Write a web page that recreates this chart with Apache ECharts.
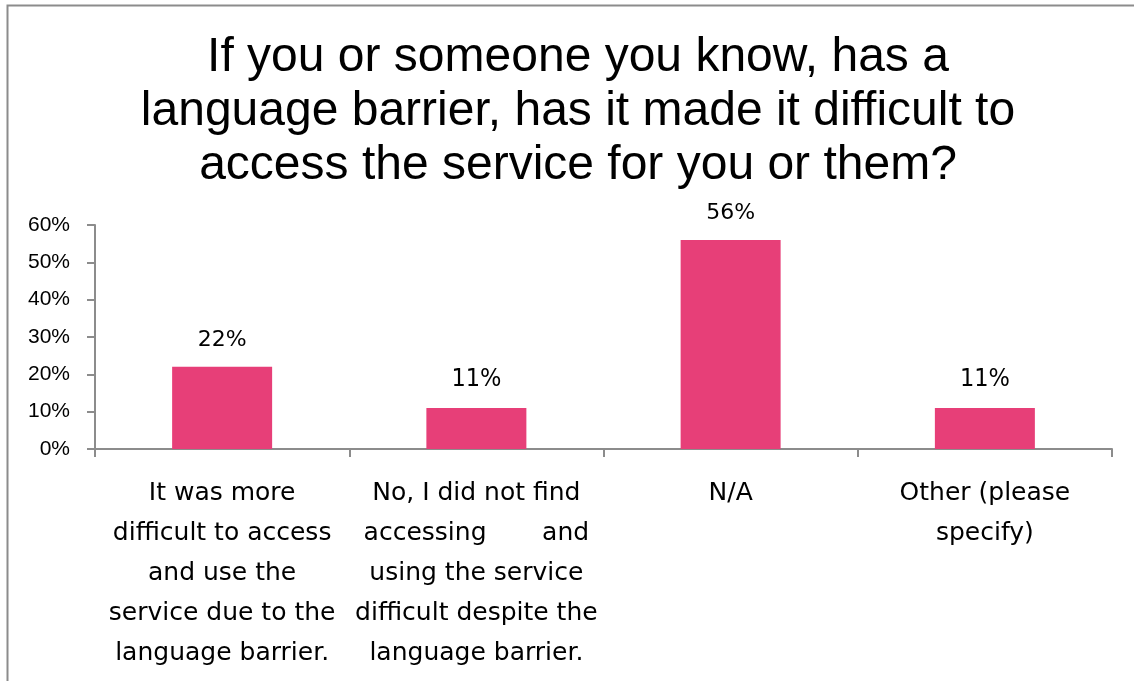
<!DOCTYPE html>
<html>
<head>
<meta charset="utf-8">
<script src="https://cdn.jsdelivr.net/npm/echarts@6/dist/echarts.min.js"></script>
<style>
  html, body { margin: 0; padding: 0; background: #fff; }
  #chart { width: 1134px; height: 681px; }
</style>
</head>
<body>
<div id="chart"></div>
<script>
// Survey answers and their shares (%)
const categories = [
  'It was more\ndifficult to access\nand use the\nservice due to the\nlanguage barrier.',
  'No, I did not find\naccessing       and\nusing the service\ndifficult despite the\nlanguage barrier.',
  'N/A',
  'Other (please\nspecify)'
];
const shares = [22, 11, 56, 11];
const yTicks = [0, 10, 20, 30, 40, 50, 60];

const titleText = 'If you or someone you know, has a\nlanguage barrier, has it made it difficult to\naccess the service for you or them?';

const wideLabel = { fontFamily: 'DejaVu Sans, Verdana, sans-serif', fontSize: 22 };
const narrowLabel = { fontFamily: 'Liberation Sans Narrow, DejaVu Sans Condensed, sans-serif', fontSize: 25 };

const chart = echarts.init(document.getElementById('chart'));
chart.setOption({
  animation: false,
  backgroundColor: '#ffffff',
  graphic: [{
    type: 'rect',
    shape: { x: 7.5, y: 5.5, width: 1140, height: 700 },
    style: { fill: 'none', stroke: '#8c8c8c', lineWidth: 2 },
    silent: true
  }],
  title: {
    text: titleText,
    left: 573,
    top: 26,
    textAlign: 'center',
    textStyle: {
      fontFamily: 'Liberation Sans, Arial, sans-serif',
      fontSize: 48,
      fontWeight: 'normal',
      lineHeight: 54,
      color: '#000'
    }
  },
  grid: { left: 95, right: 22, top: 225, bottom: 232, containLabel: false },
  xAxis: {
    type: 'category',
    data: categories,
    axisLine: { show: true, lineStyle: { color: '#8c8c8c', width: 2 } },
    axisTick: { show: true, alignWithLabel: false, length: 8, lineStyle: { color: '#8c8c8c', width: 2 } },
    axisLabel: {
      interval: 0,
      margin: 24,
      fontFamily: 'DejaVu Sans, Verdana, sans-serif',
      fontSize: 25,
      lineHeight: 40,
      color: '#000',
      align: 'center'
    }
  },
  yAxis: {
    type: 'value',
    min: yTicks[0],
    max: yTicks[yTicks.length - 1],
    interval: 10,
    splitLine: { show: false },
    axisLine: { show: true, lineStyle: { color: '#8c8c8c', width: 2 } },
    axisTick: { show: true, length: 8, lineStyle: { color: '#8c8c8c', width: 2 } },
    axisLabel: {
      margin: 25,
      fontFamily: 'Liberation Sans, Arial, sans-serif',
      fontSize: 21,
      color: '#000',
      formatter: v => v + '%'
    }
  },
  series: [{
    type: 'bar',
    data: shares.map((v, i) => ({
      value: v,
      label: (i === 1 || i === 3) ? narrowLabel : wideLabel
    })),
    barWidth: 100,
    itemStyle: { color: '#e73f78' },
    label: {
      show: true,
      position: 'top',
      distance: 16,
      color: '#000',
      formatter: p => p.value + '%'
    }
  }]
});
</script>
</body>
</html>
